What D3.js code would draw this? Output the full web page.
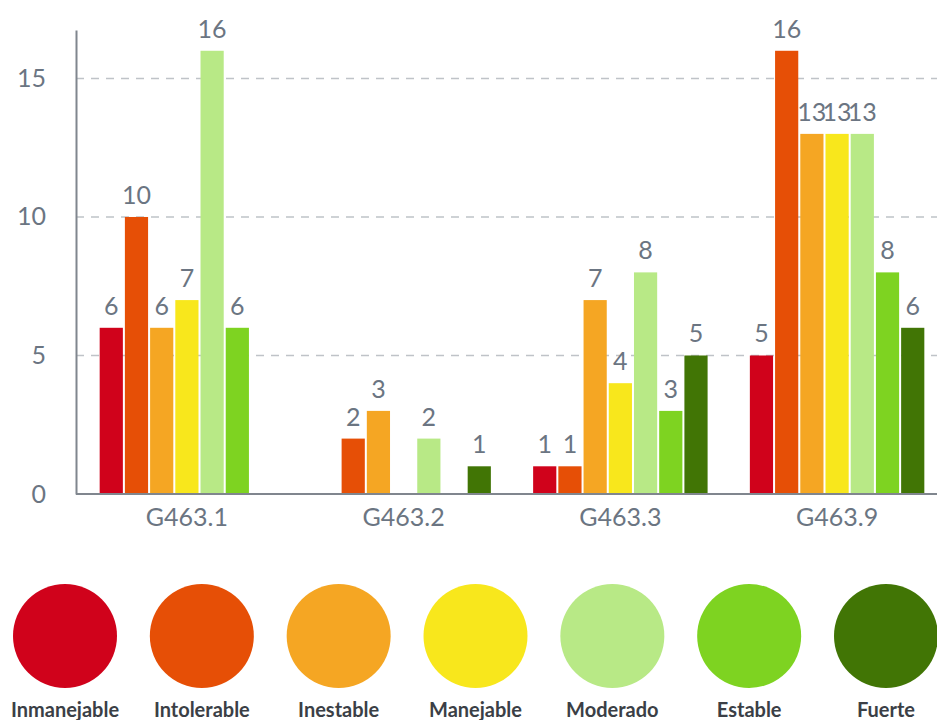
<!DOCTYPE html>
<html>
<head>
<meta charset="utf-8">
<script src="https://cdn.jsdelivr.net/npm/d3@7"></script>
<style>
  html, body { margin: 0; padding: 0; background: #fff; }
  svg { display: block; }
</style>
</head>
<body>
<svg id="chart" width="937" height="720"></svg>
<script>
// Groups (ICD codes) and risk levels
const groups = ["G463.1", "G463.2", "G463.3", "G463.9"];
const levels = ["Inmanejable", "Intolerable", "Inestable", "Manejable", "Moderado", "Estable", "Fuerte"];
const levelColors = ["#D0021B", "#E64F06", "#F5A623", "#F8E71C", "#B8E986", "#7ED321", "#417505"];

// Counts per level, one value for each group (null = no bar)
const inmanejable = [6, null, 1, 5];
const intolerable = [10, 2, 1, 16];
const inestable = [6, 3, 7, 13];
const manejable = [7, null, 4, 13];
const moderado = [16, 2, 8, 13];
const estable = [6, null, 3, 8];
const fuerte = [null, 1, 5, 6];
const yTicks = [0, 5, 10, 15];

const series = [inmanejable, intolerable, inestable, manejable, moderado, estable, fuerte];

const svg = d3.select("#chart");
const axisLeft = 76;
const plotRight = 937;

const x0 = d3.scaleBand().domain(groups).range([78, 946]).paddingInner(0.195).paddingOuter(0.1);
const x1 = d3.scaleBand().domain(levels).range([0, x0.bandwidth()]).paddingInner(0.08);
const y = d3.scaleLinear().domain([0, 16.75]).range([494, 30]);
const color = d3.scaleOrdinal().domain(levels).range(levelColors);

const font = "Lato, 'Open Sans', sans-serif";
const textGray = "#6b7582";

// Dashed gridlines
svg.append("g")
  .selectAll("line")
  .data(yTicks.filter(d => d > 0))
  .join("line")
  .attr("x1", axisLeft).attr("x2", plotRight)
  .attr("y1", d => y(d)).attr("y2", d => y(d))
  .attr("stroke", "#bfc3c8").attr("stroke-width", 1.5)
  .attr("stroke-dasharray", "8,7");

// Y axis
const yAxis = svg.append("g")
  .attr("transform", `translate(${axisLeft},0)`)
  .call(d3.axisLeft(y).tickValues(yTicks).tickSize(0).tickPadding(30).tickFormat(d3.format("d")));
yAxis.select(".domain").attr("stroke", "#80868e").attr("stroke-width", 2);
yAxis.selectAll("text").attr("font-family", font).attr("font-size", 25).attr("fill", textGray);

// Bars
const cells = [];
groups.forEach((g, gi) => {
  levels.forEach((l, li) => {
    const v = series[li][gi];
    if (v != null) cells.push({ group: g, level: l, value: v });
  });
});

const barW = x1.bandwidth();
svg.append("g")
  .selectAll("rect")
  .data(cells)
  .join("rect")
  .attr("x", d => x0(d.group) + x1(d.level))
  .attr("y", d => y(d.value))
  .attr("width", barW)
  .attr("height", d => y(0) - y(d.value))
  .attr("fill", d => color(d.level));

// Value labels
svg.append("g")
  .selectAll("text")
  .data(cells)
  .join("text")
  .attr("x", d => x0(d.group) + x1(d.level) + barW / 2)
  .attr("y", d => y(d.value) - 13)
  .attr("text-anchor", "middle")
  .attr("font-family", font)
  .attr("font-size", 25)
  .attr("fill", textGray)
  .text(d => d.value);

// X axis
const xAxis = svg.append("g")
  .attr("transform", `translate(0,${y(0)})`)
  .call(d3.axisBottom(x0).tickSize(0).tickPadding(14));
xAxis.select(".domain").attr("d", `M${axisLeft},0H${plotRight}`).attr("stroke", "#80868e").attr("stroke-width", 2);
xAxis.selectAll("text").attr("font-family", font).attr("font-size", 25).attr("fill", textGray);

// Legend
const lx = d3.scalePoint().domain(levels).range([65, 886]);
const legend = svg.append("g")
  .selectAll("g")
  .data(levels)
  .join("g")
  .attr("transform", d => `translate(${lx(d)},0)`);
legend.append("circle")
  .attr("cx", 0).attr("cy", 636).attr("r", 52)
  .attr("fill", d => color(d));
legend.append("text")
  .attr("x", 0).attr("y", 717)
  .attr("text-anchor", "middle")
  .attr("font-family", font)
  .attr("font-weight", 700)
  .attr("font-size", 20)
  .attr("fill", "#3b3f46")
  .text(d => d);
</script>
</body>
</html>
